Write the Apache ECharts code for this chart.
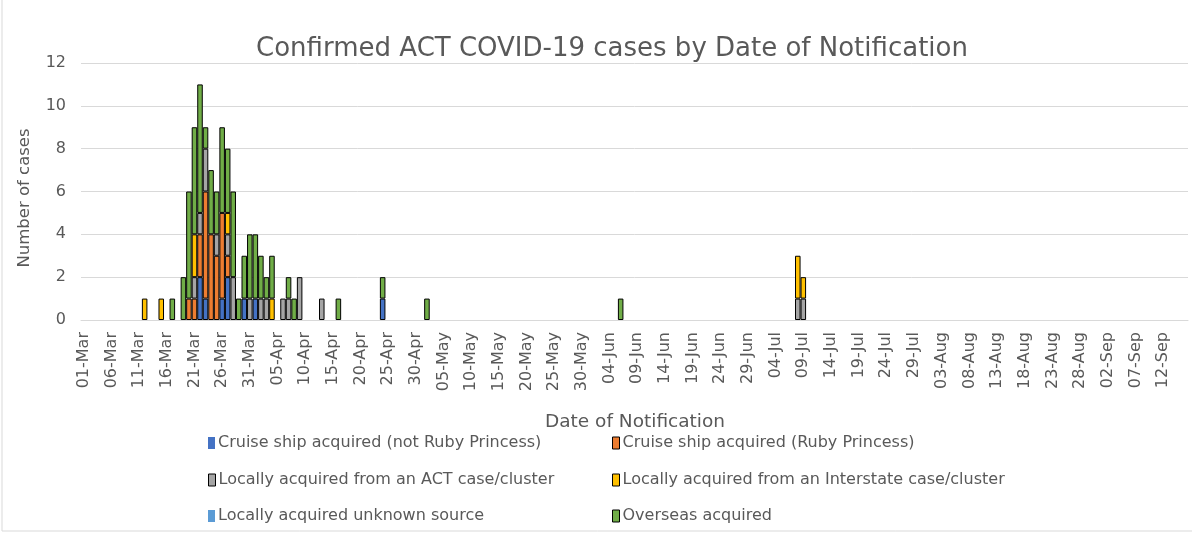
<!DOCTYPE html>
<html><head><meta charset="utf-8">
<script src="https://cdn.jsdelivr.net/npm/echarts@6/dist/echarts.min.js"></script>
<style>html,body{margin:0;padding:0;background:#fff}#c{width:1192px;height:534px}</style>
</head><body><div id="c"></div>
<script>
// ---- axis definition ----
const monthNames = ['Mar','Apr','May','Jun','Jul','Aug','Sep'];
const monthDays  = [31, 30, 31, 30, 31, 31, 16];   // axis runs 01-Mar .. 16-Sep
const yTicks = [0, 2, 4, 6, 8, 10, 12];

// ---- series ----
const seriesNames = [
  'Cruise ship acquired (not Ruby Princess)',
  'Cruise ship acquired (Ruby Princess)',
  'Locally acquired from an ACT case/cluster',
  'Locally acquired from an Interstate case/cluster',
  'Locally acquired unknown source',
  'Overseas acquired'
];
const seriesColors = ['#4472C4', '#ED7D31', '#A5A5A5', '#FFC000', '#5B9BD5', '#70AD47'];

// dates on which cases were notified
const caseDates = ['12-Mar','15-Mar','17-Mar','19-Mar','20-Mar','21-Mar','22-Mar','23-Mar','24-Mar','25-Mar',
  '26-Mar','27-Mar','28-Mar','29-Mar','30-Mar','31-Mar','01-Apr','02-Apr','03-Apr','04-Apr',
  '06-Apr','07-Apr','08-Apr','09-Apr','13-Apr','16-Apr','24-Apr','02-May','06-Jun','08-Jul','09-Jul'];
const cruiseOther     = [0,0,0,0,0,0,2,1,0,0, 1,2,0,0,1,0,1,0,0,0, 0,0,0,0,0,0,1,0,0,0,0];
const cruiseRuby      = [0,0,0,0,1,1,2,5,4,3, 4,1,0,0,0,0,0,0,0,0, 0,0,0,0,0,0,0,0,0,0,0];
const localACT        = [0,0,0,0,0,1,1,2,0,1, 0,1,2,0,0,1,0,1,1,0, 1,1,0,2,1,0,0,0,0,1,1];
const localInterstate = [1,1,0,0,0,2,0,0,0,0, 0,1,0,0,0,0,0,0,0,1, 0,0,0,0,0,0,0,0,0,2,1];
const localUnknown    = [0,0,0,0,0,0,0,0,0,0, 0,0,0,0,0,0,0,0,0,0, 0,0,0,0,0,0,0,0,0,0,0];
const overseas        = [0,0,1,2,5,5,6,1,3,2, 4,3,4,1,2,3,3,2,1,2, 0,1,1,0,0,1,1,1,1,0,0];

// ---- build ----
const categories = [];
monthNames.forEach((m, i) => {
  for (let d = 1; d <= monthDays[i]; d++) categories.push((d < 10 ? '0' : '') + d + '-' + m);
});
const seriesValues = [cruiseOther, cruiseRuby, localACT, localInterstate, localUnknown, overseas];
function fullSeries(vals) {
  const out = categories.map(() => null);
  caseDates.forEach((dt, i) => { if (vals[i] > 0) out[categories.indexOf(dt)] = vals[i]; });
  return out;
}

const FONT = 'DejaVu Sans';
const TXT = '#595959';

const legendPos = [
  {left: 203, top: 430}, {left: 607, top: 430},
  {left: 203, top: 467}, {left: 607, top: 467},
  {left: 203, top: 503}, {left: 607, top: 503}
];

const option = {
  animation: false,
  backgroundColor: '#fff',
  title: {
    text: 'Confirmed ACT COVID-19 cases by Date of Notification',
    left: 607, top: 31, textAlign: 'center',
    textStyle: {fontFamily: FONT, fontSize: 26, fontWeight: 'normal', color: TXT}
  },
  grid: {left: 81, right: 4, top: 63, bottom: 214, containLabel: false},
  xAxis: {
    type: 'category',
    data: categories,
    boundaryGap: true,
    axisLine: {lineStyle: {color: '#d9d9d9', width: 1}},
    axisTick: {show: false},
    axisLabel: {interval: 4, rotate: 90, margin: 12, fontFamily: FONT, fontSize: 16, color: TXT}
  },
  yAxis: {
    type: 'value', min: 0, max: 12, interval: 2,
    axisLine: {show: false}, axisTick: {show: false},
    splitLine: {lineStyle: {color: '#d9d9d9', width: 1}},
    axisLabel: {margin: 15, fontFamily: FONT, fontSize: 16, color: TXT,
      formatter: v => yTicks.includes(v) ? String(v) : ''}
  },
  legend: seriesNames.map((n, i) => ({
    data: [{name: n, itemStyle: (i === 0 || i === 4) ? {borderWidth: 0} : {borderColor: '#000', borderWidth: 1}}],
    left: legendPos[i].left, top: legendPos[i].top, orient: 'horizontal',
    icon: 'rect', itemWidth: 7, itemHeight: 12, selectedMode: false,
    textStyle: {fontFamily: FONT, fontSize: 16, color: TXT, padding: [0, 0, 0, -2]}
  })),
  graphic: [
    {type: 'rect', shape: {x: 2, y: -2, width: 1200, height: 533}, style: {fill: 'none', stroke: '#d9d9d9', lineWidth: 1}, silent: true, z: -1},
    {type: 'text', x: 25, y: 198, rotation: Math.PI / 2,
      style: {text: 'Number of cases', fontFamily: FONT, fontSize: 16.5, fill: TXT, textAlign: 'center', textVerticalAlign: 'middle'}},
    {type: 'text', x: 635, y: 422,
      style: {text: 'Date of Notification', fontFamily: FONT, fontSize: 18.5, fill: TXT, textAlign: 'center', textVerticalAlign: 'middle'}}
  ],
  series: seriesNames.map((n, i) => ({
    name: n, type: 'bar', stack: 'cases',
    data: fullSeries(seriesValues[i]),
    barCategoryGap: '0%',
    itemStyle: {color: seriesColors[i], borderColor: '#000', borderWidth: 1}
  }))
};

echarts.init(document.getElementById('c'), null, {renderer: 'canvas'}).setOption(option);
</script>
</body></html>
